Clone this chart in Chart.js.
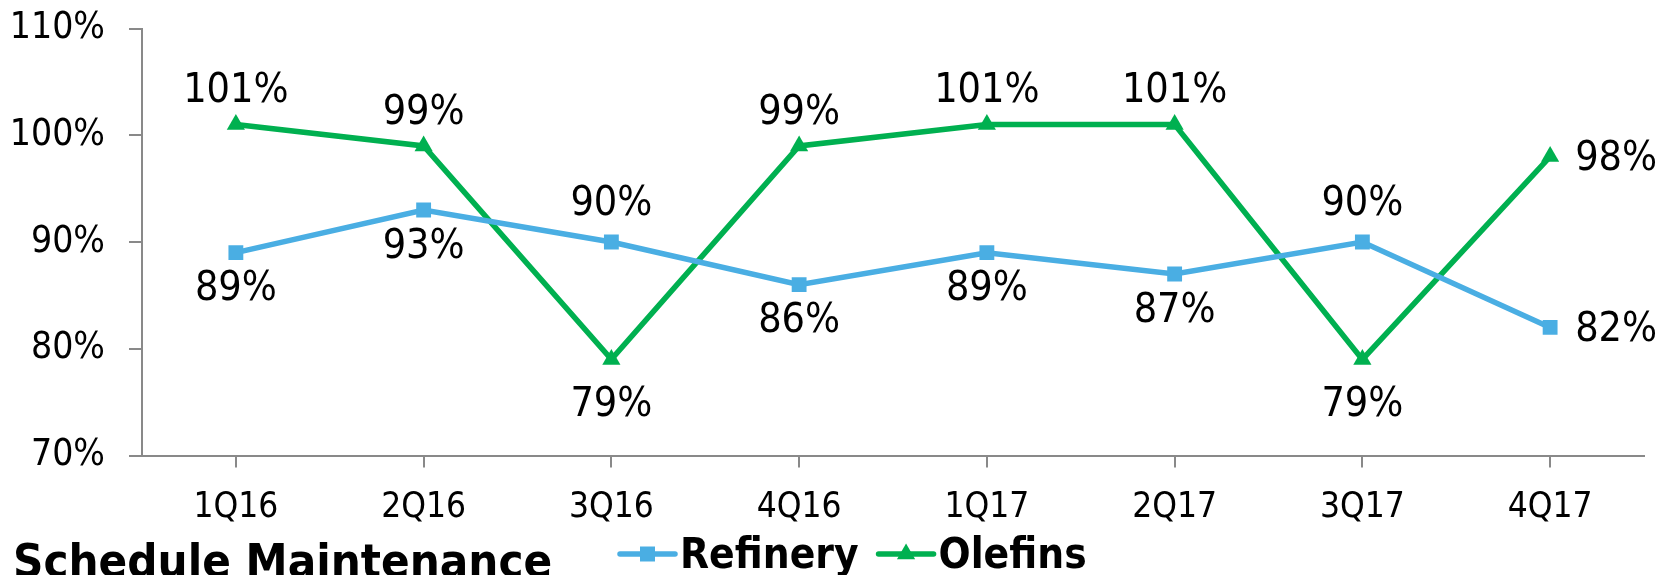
<!DOCTYPE html>
<html>
<head>
<meta charset="utf-8">
<script src="https://cdn.jsdelivr.net/npm/chart.js@4.4.1/dist/chart.umd.min.js"></script>
<style>
  html, body { margin: 0; padding: 0; background: #fff; overflow: hidden; }
  #wrap { width: 1663px; height: 600px; position: relative; }
</style>
</head>
<body>
<div id="wrap"><canvas id="chart"></canvas></div>
<script>
// Quarterly reliability
const quarters = ["1Q16", "2Q16", "3Q16", "4Q16", "1Q17", "2Q17", "3Q17", "4Q17"];
const refinery = [89, 93, 90, 86, 89, 87, 90, 82];
const olefins = [101, 99, 79, 99, 101, 101, 79, 98];
const yMin = 70;
const yMax = 110;
const yStep = 10;
const title = "Schedule Maintenance";

const FONT = "'DejaVu Sans Condensed', 'DejaVu Sans', sans-serif";
const AXIS = "#898989";
const BLUE = "#4AAEE3";
const GREEN = "#00B050";

// distance of the value labels from their marker (squares vs triangles)
const LABEL_OFFSET = [
  { above: 38, below: 37 },
  { above: 33, below: 46 },
];

// Excel-style value labels: the higher series sits above, the lower one below,
// the last point gets its label to the right.
const valueLabels = {
  id: "valueLabels",
  afterDatasetsDraw(chart) {
    const { ctx } = chart;
    const sets = chart.data.datasets;
    ctx.save();
    ctx.font = `41px ${FONT}`;
    ctx.fillStyle = "#000";
    ctx.textBaseline = "middle";
    sets.forEach((ds, di) => {
      const other = sets[1 - di].data;
      chart.getDatasetMeta(di).data.forEach((pt, i) => {
        const v = ds.data[i];
        const text = v + "%";
        if (i === ds.data.length - 1) {
          ctx.textAlign = "left";
          ctx.fillText(text, pt.x + 25, pt.y + 3);
        } else if (v > other[i]) {
          ctx.textAlign = "center";
          ctx.fillText(text, pt.x, pt.y - LABEL_OFFSET[di].above);
        } else {
          ctx.textAlign = "center";
          ctx.fillText(text, pt.x, pt.y + LABEL_OFFSET[di].below);
        }
      });
    });
    ctx.restore();
  },
};

function drawMarker(ctx, style, x, y, color) {
  ctx.fillStyle = color;
  ctx.beginPath();
  if (style === "rect") {
    ctx.rect(x - 7.5, y - 7.5, 15, 15);
  } else {
    ctx.moveTo(x, y - 10.5);
    ctx.lineTo(x + 9.1, y + 5.25);
    ctx.lineTo(x - 9.1, y + 5.25);
    ctx.closePath();
  }
  ctx.fill();
}

// bottom row: chart caption on the left, line+marker legend in the middle
const bottomRow = {
  id: "bottomRow",
  afterDraw(chart) {
    const { ctx, chartArea } = chart;
    const base = chartArea.bottom;
    ctx.save();
    ctx.fillStyle = "#000";
    ctx.textBaseline = "alphabetic";
    ctx.textAlign = "left";
    ctx.font = `bold 47px ${FONT}`;
    ctx.fillText(title, 13, base + 121.5);

    ctx.font = `bold 42px ${FONT}`;
    let x = 620;
    const lineY = base + 98.5;
    chart.data.datasets.forEach((ds) => {
      ctx.strokeStyle = ds.borderColor;
      ctx.lineWidth = 5.5;
      ctx.lineCap = "round";
      ctx.beginPath();
      ctx.moveTo(x, lineY);
      ctx.lineTo(x + 55, lineY);
      ctx.stroke();
      drawMarker(ctx, ds.pointStyle, x + 27.5, lineY, ds.borderColor);
      ctx.fillStyle = "#000";
      ctx.fillText(ds.label, x + 60, base + 112.5);
      x += 60 + ctx.measureText(ds.label).width + 20;
    });
    ctx.restore();
  },
};

// keep the plot box where the reference has it: drop the label overhang padding
function fixYAxis(s) {
  s.width = 142;
  s.paddingTop = 0;
  s.paddingBottom = 0;
}

new Chart(document.getElementById("chart"), {
  type: "line",
  data: {
    labels: quarters,
    datasets: [
      {
        label: "Refinery",
        data: refinery,
        borderColor: BLUE,
        backgroundColor: BLUE,
        pointStyle: "rect",
        pointRadius: 10.5,
        pointBackgroundColor: BLUE,
        pointBorderColor: BLUE,
        pointBorderWidth: 0,
        borderWidth: 5.5,
        tension: 0,
      },
      {
        label: "Olefins",
        data: olefins,
        borderColor: GREEN,
        backgroundColor: GREEN,
        pointStyle: "triangle",
        pointRadius: 10.5,
        pointBackgroundColor: GREEN,
        pointBorderColor: GREEN,
        pointBorderWidth: 0,
        borderWidth: 5.5,
        tension: 0,
      },
    ],
  },
  options: {
    responsive: true,
    maintainAspectRatio: false,
    animation: false,
    layout: { padding: { left: 0, right: 19, top: 28.5, bottom: 74.5 } },
    plugins: {
      legend: { display: false },
      tooltip: { enabled: false },
    },
    scales: {
      x: {
        offset: true,
        grid: { display: true, drawOnChartArea: false, drawTicks: true, tickLength: 12, color: AXIS, lineWidth: 2 },
        border: { display: true, color: AXIS, width: 2 },
        ticks: { color: "#000", font: { family: FONT, size: 35 }, padding: 19, maxRotation: 0, autoSkip: false },
        afterFit: (s) => { s.height = 70; },
      },
      y: {
        min: yMin,
        max: yMax,
        grid: { display: true, drawOnChartArea: false, drawTicks: true, tickLength: 13, color: AXIS, lineWidth: 2 },
        border: { display: true, color: AXIS, width: 2 },
        ticks: {
          stepSize: yStep,
          color: "#000",
          font: { family: FONT, size: 37 },
          padding: 24,
          callback: (v) => v + "%",
        },
        afterFit: fixYAxis,
      },
    },
  },
  plugins: [valueLabels, bottomRow],
});
</script>
</body>
</html>
